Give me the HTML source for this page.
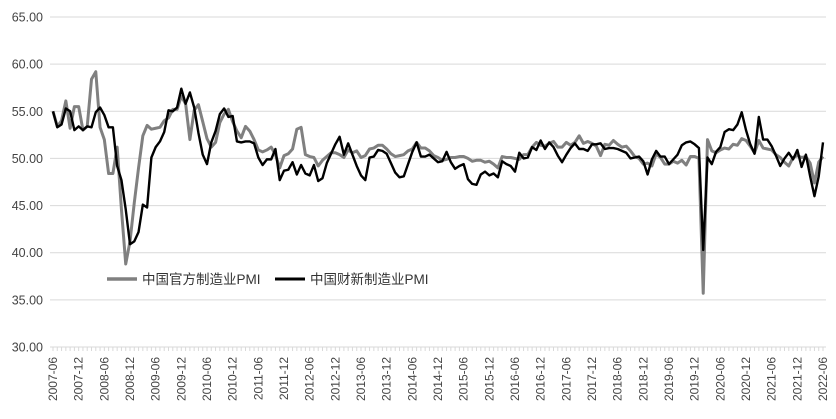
<!DOCTYPE html>
<html><head><meta charset="utf-8">
<style>
html,body{margin:0;padding:0;background:#fff;}
svg{display:block;font-family:"Liberation Sans","Noto Sans CJK SC",sans-serif;}
</style></head>
<body>
<svg id="chart" width="836" height="419" viewBox="0 0 836 419" xmlns="http://www.w3.org/2000/svg">
<g id="grid"></g>
<g id="yaxis"></g>
<g id="xaxis"></g>
<g id="series"></g>
<g id="legend">
  <g>
    <line x1="107" y1="279" x2="137" y2="279" stroke="#808080" stroke-width="3.5"/>
    <text x="142" y="284" font-size="13.5" fill="#333">中国官方制造业PMI</text>
  </g>
  <g>
    <line x1="275" y1="279" x2="305" y2="279" stroke="#000" stroke-width="3"/>
    <text x="310" y="284" font-size="13.5" fill="#333">中国财新制造业PMI</text>
  </g>
</g>
</svg>
<script>
const yTicks = [30, 35, 40, 45, 50, 55, 60, 65];
const officialPMI = [
55.0,53.4,54.0,56.1,53.2,55.5,55.5,
53.0,53.4,58.4,59.2,53.3,52.0,48.4,48.4,51.2,44.6,38.8,41.2,
45.3,49.0,52.4,53.5,53.1,53.2,53.3,54.0,54.3,55.2,55.2,56.6,
55.8,52.0,55.1,55.7,53.9,52.1,51.2,51.7,53.8,54.7,55.2,53.9,
52.9,52.2,53.4,52.9,52.0,50.9,50.7,50.9,51.2,50.4,49.0,50.3,
50.5,51.0,53.1,53.3,50.4,50.2,50.1,49.2,49.8,50.2,50.6,50.6,
50.4,50.1,50.9,50.6,50.8,50.1,50.3,51.0,51.1,51.4,51.4,51.0,
50.5,50.2,50.3,50.4,50.8,51.0,51.7,51.1,51.1,50.8,50.3,50.1,
49.8,49.9,50.1,50.1,50.2,50.2,50.0,49.7,49.8,49.8,49.6,49.7,
49.4,49.0,50.2,50.1,50.1,50.0,49.9,50.4,50.4,51.2,51.7,51.4,
51.3,51.6,51.8,51.2,51.2,51.7,51.4,51.7,52.4,51.6,51.8,51.6,
51.3,50.3,51.5,51.4,51.9,51.5,51.2,51.3,50.8,50.2,50.0,49.4,
49.5,49.2,50.5,50.1,49.4,49.4,49.7,49.5,49.8,49.3,50.2,50.2,
50.0,35.7,52.0,50.8,50.6,50.9,51.1,51.0,51.5,51.4,52.1,51.9,
51.3,50.6,51.9,51.1,51.0,50.9,50.4,50.1,49.6,49.2,50.1,50.3,
50.1,50.2,49.5,47.4,49.6,50.2];
const caixinPMI = [
55.0,53.3,53.6,55.3,55.0,53.0,53.4,
53.0,53.4,53.3,54.9,55.4,54.6,53.3,53.3,49.2,47.7,44.6,40.9,
41.2,42.2,45.1,44.8,50.1,51.2,51.8,52.8,55.1,55.0,55.4,57.4,
55.8,57.0,55.4,52.7,50.4,49.4,51.7,52.9,54.7,55.3,54.4,54.5,
51.8,51.7,51.8,51.8,51.6,50.1,49.3,49.9,49.9,51.0,47.7,48.7,
48.8,49.6,48.3,49.3,48.4,48.2,49.3,47.6,47.9,49.5,50.5,51.5,
52.3,50.4,51.6,50.4,49.2,48.2,47.7,50.1,50.2,50.9,50.8,50.5,
49.5,48.5,48.0,48.1,49.4,50.7,51.7,50.2,50.2,50.4,50.0,49.6,
49.7,50.7,49.6,48.9,49.2,49.4,47.8,47.3,47.2,48.3,48.6,48.2,
48.4,48.0,49.7,49.4,49.2,48.6,50.6,50.0,50.1,51.2,50.9,51.9,
51.0,51.7,51.2,50.3,49.6,50.4,51.1,51.6,51.0,51.0,50.8,51.5,
51.5,51.6,51.0,51.1,51.1,51.0,50.8,50.6,50.0,50.1,50.2,49.7,
48.3,49.9,50.8,50.2,50.2,49.4,49.9,50.4,51.4,51.7,51.8,51.5,
51.1,40.3,50.1,49.4,50.7,51.2,52.8,53.1,53.0,53.6,54.9,53.0,
51.5,50.5,54.4,52.0,52.0,51.3,50.3,49.2,50.0,50.6,49.9,50.9,
49.1,50.4,48.1,46.0,48.1,51.7];
const startYear = 2007, startMonth = 6;
const categories = [];
for (let i = 0; i < officialPMI.length; i++) {
  const m = startMonth - 1 + i;
  const y = startYear + Math.floor(m / 12);
  const mm = (m % 12) + 1;
  categories.push(y + '-' + (mm < 10 ? '0' : '') + mm);
}

const NS = 'http://www.w3.org/2000/svg';
const X0 = 53, X1 = 823, Y30 = 347, Y65 = 17;
const yMin = 30, yMax = 65;
function xScale(i){ return X0 + i * (X1 - X0) / (categories.length - 1); }
function yScale(v){ return Y30 - (v - yMin) * (Y30 - Y65) / (yMax - yMin); }
function mk(tag, attrs, parent){
  const e = document.createElementNS(NS, tag);
  for (const k in attrs) e.setAttribute(k, attrs[k]);
  parent.appendChild(e);
  return e;
}
const grid = document.getElementById('grid');
const yaxis = document.getElementById('yaxis');
const xaxis = document.getElementById('xaxis');
const series = document.getElementById('series');

yTicks.forEach(t => {
  const y = yScale(t);
  const l = mk('line', {x1: 50, x2: 826, y1: y, y2: y, stroke: '#d9d9d9', 'stroke-width': 1}, grid);
  
  
  const tx = mk('text', {x: 43, y: y + 4.5, 'text-anchor': 'end', 'font-size': 12.5, fill: '#444'}, yaxis);
  tx.textContent = t.toFixed(2);
  
  
});

categories.forEach((c, i) => {
  const x = xScale(i);
  const tk = mk('line', {x1: x, x2: x, y1: Y30, y2: Y30 + 4, stroke: '#d9d9d9', 'stroke-width': 1}, xaxis);
  
  
  if (i % 6 === 0) {
    const tx = mk('text', {x: 0, y: 0, 'text-anchor': 'end', 'font-size': 12, fill: '#444',
      transform: 'translate(' + (x + 4) + ',' + (Y30 + 10) + ') rotate(-90)'}, xaxis);
    tx.textContent = c;
    
    
  }
});

function drawLine(data, color, w, name){
  const pts = data.map((v, i) => xScale(i).toFixed(2) + ',' + yScale(v).toFixed(2)).join(' ');
  const p = mk('polyline', {points: pts, fill: 'none', stroke: color, 'stroke-width': w, 'stroke-linejoin': 'round'}, series);
  
  
}
drawLine(officialPMI, '#808080', 3, 'official-pmi-line');
drawLine(caixinPMI, '#000000', 2.4, 'caixin-pmi-line');
</script>
</body></html>
